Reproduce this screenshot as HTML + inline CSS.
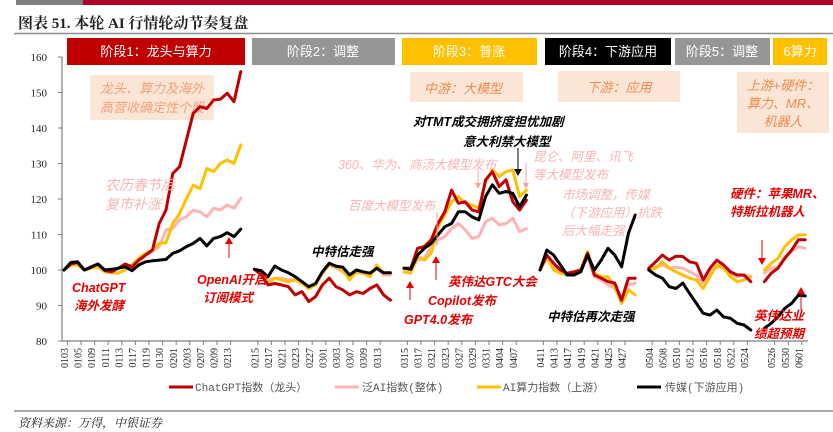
<!DOCTYPE html>
<html><head><meta charset="utf-8">
<style>
body{margin:0;background:#fff;}
#wrap{position:relative;width:833px;height:432px;overflow:hidden;font-family:"Liberation Sans","Noto Sans CJK SC",sans-serif;}
svg{position:absolute;left:0;top:0;}
</style></head>
<body>
<div id="wrap">
<svg id="chart" width="833" height="432" viewBox="0 0 833 432">
  <rect x="16" y="0" width="67" height="5" fill="#7f7f7f"/>
  <rect x="83" y="0" width="750" height="5" fill="#b0002a"/>
  <text x="18" y="28" font-size="15" font-weight="bold" fill="#222" font-family="'Liberation Serif','Noto Serif CJK SC',serif">图表 51. 本轮 AI 行情轮动节奏复盘</text>
  <line x1="14" y1="33.5" x2="833" y2="33.5" stroke="#8c8c8c" stroke-width="1.5"/>

  <g font-size="13" fill="#fff" text-anchor="middle">
    <rect x="67" y="38" width="178" height="27" fill="#c00000"/>
    <text x="156" y="56" fill="#fff">阶段1：龙头与算力</text>
    <rect x="252" y="38" width="143" height="27" fill="#969696"/>
    <text x="323" y="56" fill="#fff">阶段2：调整</text>
    <rect x="402" y="38" width="135" height="27" fill="#ffc000"/>
    <text x="469" y="56" fill="#fff">阶段3：普涨</text>
    <rect x="545" y="38" width="126" height="27" fill="#000"/>
    <text x="608" y="56" fill="#fff">阶段4：下游应用</text>
    <rect x="675" y="38" width="95" height="27" fill="#969696"/>
    <text x="722" y="56" fill="#fff">阶段5：调整</text>
    <rect x="773" y="38" width="54" height="27" fill="#ffc000"/>
    <text x="800" y="56" fill="#fff">6算力</text>
  </g>

  <g font-style="italic" fill="#f08a4b" font-size="13" text-anchor="middle">
    <rect x="90" y="75" width="124" height="45" fill="#fbe5d6"/>
    <text x="152" y="93" fill="#f4a27a">龙头、算力及海外</text>
    <text x="152" y="112" fill="#f4a27a">高营收确定性个股</text>
    <rect x="410" y="72" width="113" height="30" fill="#fbe5d6"/>
    <text x="463" y="93" fill="#f08a4b">中游：大模型</text>
    <rect x="558" y="71" width="122" height="31" fill="#fbe5d6"/>
    <text x="619" y="92" fill="#f08a4b">下游：应用</text>
    <rect x="737" y="72" width="92" height="61" fill="#fbe5d6"/>
    <text x="783" y="90" fill="#f08a4b">上游+硬件：</text>
    <text x="783" y="108" fill="#f08a4b">算力、MR、</text>
    <text x="783" y="126" fill="#f08a4b">机器人</text>
  </g>

  <g id="axes"></g>
  <g id="series"></g>

  <g font-style="italic" font-size="12.5">
    <text x="105" y="190" fill="#f7b4b4" font-size="14">农历春节后</text>
    <text x="105" y="209" fill="#f7b4b4" font-size="14">复市补涨</text>
    <text x="72" y="292" fill="#e60000" font-weight="bold">ChatGPT</text>
    <text x="74" y="310" fill="#e60000" font-weight="bold">海外发酵</text>
    <text x="197" y="284" fill="#e60000" font-weight="bold">OpenAI开启</text>
    <text x="203" y="302" fill="#e60000" font-weight="bold">订阅模式</text>
    <text x="311" y="256" fill="#000" font-weight="bold">中特估走强</text>
    <text x="338" y="169" fill="#f7b4b4">360、华为、商汤大模型发布</text>
    <text x="348" y="210" fill="#f7b4b4">百度大模型发布</text>
    <text x="413" y="126" fill="#000" font-weight="bold">对TMT成交拥挤度担忧加剧</text>
    <text x="463" y="146" fill="#000" font-weight="bold">意大利禁大模型</text>
    <text x="533" y="161" fill="#f7b4b4">昆仑、阿里、讯飞</text>
    <text x="533" y="179" fill="#f7b4b4">等大模型发布</text>
    <text x="562" y="199" fill="#f7b4b4">市场调整，传媒</text>
    <text x="562" y="217" fill="#f7b4b4">（下游应用）抗跌</text>
    <text x="562" y="235" fill="#f7b4b4">后大幅走强</text>
    <text x="547" y="321" fill="#000" font-weight="bold">中特估再次走强</text>
    <text x="448" y="286" fill="#e60000" font-weight="bold">英伟达GTC大会</text>
    <text x="428" y="305" fill="#e60000" font-weight="bold">Copilot发布</text>
    <text x="404" y="324" fill="#e60000" font-weight="bold">GPT4.0发布</text>
    <text x="730" y="198" fill="#e60000" font-weight="bold">硬件：苹果MR、</text>
    <text x="730" y="216" fill="#e60000" font-weight="bold">特斯拉机器人</text>
    <text x="754" y="320" fill="#e60000" font-weight="bold">英伟达业</text>
    <text x="754" y="338" fill="#e60000" font-weight="bold">绩超预期</text>
  </g>
  <g stroke-width="1">
    <line x1="229" y1="258" x2="229" y2="243" stroke="#e60000"/>
    <polygon points="225,244 233,244 229,237" fill="#e60000"/>
    <line x1="518" y1="148" x2="518" y2="170" stroke="#000"/>
    <polygon points="514,169 522,169 518,176" fill="#000"/>
    <line x1="478" y1="170" x2="478" y2="184" stroke="#f7a0a0"/>
    <polygon points="475,183 481,183 478,189" fill="#f7a0a0"/>
    <line x1="526" y1="163" x2="526" y2="184" stroke="#f7a0a0"/>
    <polygon points="523,183 529,183 526,189" fill="#f7a0a0"/>
    <line x1="437" y1="212" x2="437" y2="246" stroke="#f7a0a0"/>
    <line x1="436" y1="280" x2="436" y2="262" stroke="#e60000"/>
    <polygon points="432,263 440,263 436,256" fill="#e60000"/>
    <line x1="410" y1="300" x2="410" y2="287" stroke="#e60000"/>
    <polygon points="406,288 414,288 410,281" fill="#e60000"/>
    <line x1="762" y1="240" x2="762" y2="259" stroke="#e60000"/>
    <polygon points="758,258 766,258 762,265" fill="#e60000"/>
    <line x1="801" y1="310" x2="801" y2="293" stroke="#e60000"/>
    <polygon points="797,294 805,294 801,287" fill="#e60000"/>
  </g>

  <g font-size="11" fill="#595959" font-family="'Liberation Mono','Noto Sans CJK SC',monospace">
    <line x1="169" y1="387" x2="193" y2="387" stroke="#c00000" stroke-width="3"/>
    <text x="195" y="391">ChatGPT指数（龙头）</text>
    <line x1="335" y1="387" x2="359" y2="387" stroke="#ffb3b3" stroke-width="3"/>
    <text x="362" y="391">泛AI指数(整体)</text>
    <line x1="477" y1="387" x2="501" y2="387" stroke="#ffc000" stroke-width="3"/>
    <text x="503" y="391">AI算力指数（上游）</text>
    <line x1="637" y1="387" x2="661" y2="387" stroke="#000" stroke-width="3"/>
    <text x="665" y="391">传媒(下游应用)</text>
  </g>
  <line x1="14" y1="411" x2="833" y2="411" stroke="#8c8c8c" stroke-width="1.5"/>
  <text x="18" y="427" font-size="12" font-style="italic" fill="#222" font-family="'Liberation Serif','Noto Serif CJK SC',serif">资料来源：万得，中银证券</text>
</svg>
</div>
<script>
// ---- data ----
const yTicks = [80, 90, 100, 110, 120, 130, 140, 150, 160];
const tickLabels = ['0103','0105','0109','0111','0113','0117','0119','0130','0201','0203','0207','0209','0213',
  '0215','0217','0221','0223','0227','0301','0303','0307','0309','0313',
  '0315','0317','0321','0323','0327','0329','0331','0404','0407',
  '0411','0413','0417','0419','0421','0425','0427',
  '0504','0508','0510','0512','0516','0518','0522','0524',
  '0526','0530','0601'];
const tickIndex = [0,2,4,6,8,10,12,14,16,18,20,22,24,
  28,30,32,34,36,38,40,42,44,46,
  50,52,54,56,58,60,62,64,66,
  70,72,74,76,78,80,82,
  86,88,90,92,94,96,98,100,
  104,106,108];
const segStart = [0, 28, 50, 70, 86, 103];

const chatgpt = [
 [100,101.7,102.1,100,100.8,101.7,99.8,99.5,100.5,101.7,100.9,102.8,104.2,105.6,113.1,116.9,127.2,129.1,136.6,144.1,146.0,145.5,147.9,148.1,149.8,147.4,155.9],
 [100.2,98.6,95.8,96.2,95.8,95.3,93.0,93.9,91.1,92.5,95.8,97.7,95.3,94.4,93.0,93.9,93.4,94.8,95.8,93.0,91.5],
 [100.5,100.5,106.1,106.6,108.5,113.1,116.4,122.5,118.8,119.2,116.9,116.4,125.4,127.7,123.5,125.4,119.2,116.9,119.7],
 [100,104.2,101.9,100,99.1,99.5,100,104.7,98.6,97.7,96.7,96.3,91.5,97.7,97.7],
 [100.5,102.3,104.2,102.8,103.9,103.8,102.3,101.9,97.2,100.5,102.8,101.4,99.5,98.6,98.6,96.7],
 [96.7,99.1,100.5,103.3,105.6,108.5,108.5]
];
const panAI = [
 [100,101.5,101.5,100,100.5,101,100,99.8,100.5,101.5,100.5,102,104.2,105.2,106.6,111.3,111.7,114.1,115.0,116.9,116.4,115.0,117.4,116.9,118.3,117.4,120.2],
 [100.2,99.5,97.2,97.7,97.7,97.2,97.4,96.7,95.3,96.2,99.1,101.4,100.5,99.5,98.1,99.2,99.1,98.6,100.5,98.6,98.6],
 [100.5,100,102.8,103.3,106.6,108.5,109.4,111.7,113.1,111.3,108.9,109.4,113.6,114.6,112.7,113.1,114.6,110.8,111.7],
 [100,103.3,100.9,99.5,99.1,99.5,100,103.7,98.1,97.2,95.8,94.8,92.0,95.8,96.3],
 [100.2,100.9,101.4,100.5,100.8,100.5,99.5,98.6,96.3,99.5,100.9,100.5,99.1,98.1,98.6,98.1],
 [99.1,100.5,100.9,103.7,105.2,106.6,106.1]
];
const aiCompute = [
 [100,101.4,101.4,100,100.5,100.9,99.5,99.2,99.1,100,101.4,103.3,104.7,105.6,107.5,107.7,113.1,115.9,120.1,123.9,122.9,128.6,127.7,130.0,131.0,130.0,135.2],
 [100.2,99.5,96.2,97.7,97.2,96.7,97.2,96.2,94.8,95.8,99.1,101.4,100.9,100,97.2,99.5,99.1,98.1,101.4,99.1,99.1],
 [99.5,99.1,103.8,102.8,104.7,112.2,115.5,119.2,120.7,118.8,118.3,117.4,124.9,128.2,126.3,127.7,128.2,120.7,122.5],
 [100,103.7,100,99.1,98.6,99.1,100,105.2,99.1,98.1,98.1,95.3,90.6,94.4,93.0],
 [100.2,100.5,102.3,100.5,99.5,98.6,97.7,97.2,94.8,98.1,101.4,100.5,98.1,96.7,97.2,98.1],
 [100,101.9,103.3,106.6,108.5,109.9,109.9]
];
const media = [
 [100,102.1,102.3,100,100.9,101.7,100,100.2,100.5,100.9,99.8,101.4,102.3,102.6,102.8,103.0,104.7,105.4,106.6,107.5,108.9,106.8,108.9,109.4,110.5,109.4,111.5],
 [100.2,99.8,98.1,101.1,100,99.2,98.1,96.7,95.3,96.2,99.5,101.9,101.1,100.8,98.6,100,99.5,99.1,100.5,99.2,99.2],
 [100.5,100.2,104.2,106.1,107.5,109.9,112.2,113.1,116.4,116.4,115.0,114.1,120.7,124.0,121.6,122.1,121.6,117.8,121.1],
 [100,105.6,104.2,101.4,98.6,98.6,99.5,104.2,100,102.8,106.1,104.2,100.9,110.3,115.5],
 [100,98.6,97.7,95.3,94.8,96.3,93.4,90.6,87.8,87.3,88.7,86.8,86.4,85.0,84.5,83.1],
 [83.6,85.0,86.8,89.2,90.6,92.9,92.7]
];

// ---- scales ----
const X0 = 64, STEP = 6.8, Y80 = 341, PX_PER_UNIT = 3.55;
function xs(i){ return X0 + i*STEP; }
function ys(v){ return Y80 - (v-80)*PX_PER_UNIT; }
const NS = 'http://www.w3.org/2000/svg';
const axes = document.getElementById('axes');
const seriesG = document.getElementById('series');
function mk(tag, attrs, parent){ const e=document.createElementNS(NS,tag); for(const k in attrs) e.setAttribute(k,attrs[k]); parent.appendChild(e); return e; }

const yAxis = mk('line',{x1:62,y1:ys(160),x2:62,y2:ys(80),stroke:'#7f7f7f','stroke-width':1.2},axes);


yTicks.forEach(t=>{
  const tk = mk('line',{x1:58,y1:ys(t),x2:62,y2:ys(t),stroke:'#7f7f7f'},axes);
  
  
  const lb = mk('text',{x:47,y:ys(t)+4,'text-anchor':'end','font-size':11,fill:'#222','font-family':"'Liberation Serif',serif"},axes);
  lb.textContent = t;
  
  
});
const xAxis = mk('line',{x1:62,y1:ys(80),x2:808,y2:ys(80),stroke:'#7f7f7f','stroke-width':1.2},axes);


tickLabels.forEach((lab,k)=>{
  const i = tickIndex[k];
  const tk = mk('line',{x1:xs(i)+3.4,y1:341,x2:xs(i)+3.4,y2:345,stroke:'#7f7f7f'},axes);
  
  
  const tx = xs(i)+4;
  const lb = mk('text',{x:0,y:0,'text-anchor':'end','font-size':10,fill:'#222','font-family':"'Liberation Serif',serif",transform:`translate(${tx},348) rotate(-90)`},axes);
  lb.textContent = lab;
  
  
});

function drawSeries(data, color, name){
  data.forEach((seg, s)=>{
    const d = seg.map((v,j)=>(j?'L':'M')+xs(segStart[s]+j).toFixed(1)+','+ys(v).toFixed(1)).join(' ');
    const p = mk('path',{d:d,fill:'none',stroke:color,'stroke-width':3,'stroke-linejoin':'round','stroke-linecap':'round'},seriesG);
    
    
  });
}
drawSeries(panAI,'#ffb3b3','pan-ai');
drawSeries(aiCompute,'#ffc000','ai-compute');
drawSeries(chatgpt,'#c00000','chatgpt');
drawSeries(media,'#000000','media');
</script>
</body></html>
